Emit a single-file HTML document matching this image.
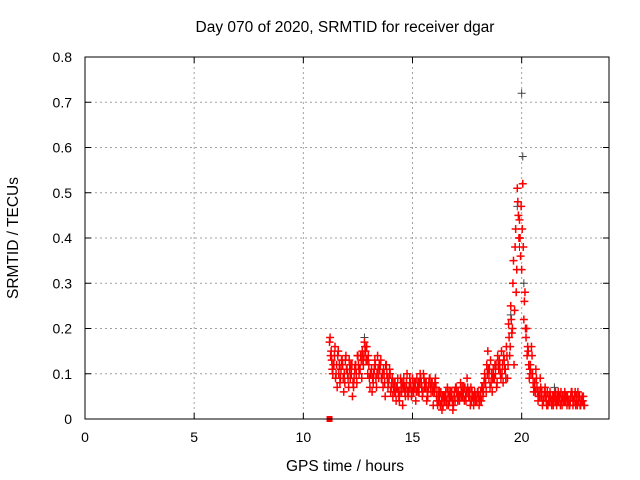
<!DOCTYPE html>
<html><head><meta charset="utf-8"><style>
body{margin:0;background:#fff;}
svg{display:block;font-family:"Liberation Sans",sans-serif;}
</style></head><body>
<svg id="chart" width="640" height="480">
<text x="345" y="32" text-anchor="middle" font-size="15.5">Day 070 of 2020, SRMTID for receiver dgar</text>
<text x="345" y="471" text-anchor="middle" font-size="15.5">GPS time / hours</text>
<text transform="translate(18,238) rotate(-90)" text-anchor="middle" font-size="15.5">SRMTID / TECUs</text>
<g id="grid"></g><g id="marks"></g>
<rect x="85" y="57" width="524" height="362" fill="none" stroke="#000"/>
</svg>
<script>
const xTicks=[0,5,10,15,20];
const yTicks=[0,0.1,0.2,0.3,0.4,0.5,0.6,0.7,0.8];
const yTickLabels=["0","0.1","0.2","0.3","0.4","0.5","0.6","0.7","0.8"];
const startHour=11.2, stepHour=0.1;
const valuesA=[.17,.13,.12,.10,.15,.09,.12,.08,.11,
.13,.10,.07,.12,.14,.11,.15,.17,.16,.12,
.10,.08,.12,.14,.11,.09,.10,.12,.08,.06,
.05,.08,.07,.04,.06,.09,.07,.05,.08,.09,
.07,.09,.06,.08,.10,.07,.05,.09,.08,.06,
.05,.04,.06,.03,.05,.07,.04,.06,.05,.07,
.06,.08,.05,.07,.09,.06,.04,.03,.05,.06,
.05,.07,.10,.12,.09,.08,.11,.10,.14,.12,
.10,.13,.16,.21,.25,.30,.38,.51,.44,.33,
.22,.18,.15,.12,.10,.08,.07,.06,.05,.04,
.05,.03,.06,.04,.05,.03,.04,.06,.05,.04,
.05,.03,.06,.04,.05,.04,.03,.04];
const valuesB=[.14,.10,.16,.07,.12,.13,.06,.14,.09,
.09,.05,.11,.08,.10,.13,.12,.15,.10,.07,
.06,.11,.07,.09,.13,.07,.05,.09,.11,.08,
.08,.04,.06,.09,.03,.06,.10,.07,.05,.06,
.04,.06,.10,.05,.07,.04,.08,.06,.03,.09,
.03,.06,.02,.05,.04,.03,.06,.02,.04,.05,
.04,.05,.07,.04,.06,.03,.05,.06,.04,.03,
.04,.06,.08,.15,.07,.06,.09,.07,.11,.09,
.08,.11,.09,.14,.19,.12,.28,.45,.36,.52,
.28,.14,.09,.16,.06,.11,.04,.09,.03,.06,
.03,.05,.04,.03,.06,.04,.05,.03,.04,.05,
.04,.05,.03,.06,.03,.05,.04,.03];
const valuesC=[.18,.11,.14,.12,.10,.11,.09,.13,.10,
.11,.12,.09,.10,.12,.14,.13,.16,.13,.09,
.11,.10,.09,.11,.12,.10,.08,.10,.09,.07,
.07,.06,.09,.06,.08,.07,.08,.06,.07,.07,
.08,.07,.08,.07,.09,.08,.07,.07,.06,.08,
.04,.05,.04,.05,.06,.05,.05,.04,.06,.06,
.05,.06,.06,.05,.07,.05,.06,.05,.04,.05,
.06,.05,.09,.10,.11,.10,.09,.12,.12,.10,
.12,.11,.14,.18,.22,.35,.42,.48,.40,.42,
.26,.20,.12,.10,.08,.06,.06,.05,.06,.05,
.04,.04,.05,.05,.04,.05,.05,.04,.04,.05,
.04,.04,.05,.05,.04,.05,.04,.05];
const valuesD=[.15,.12,.09,.14,.08,.13,.10,.11,.07,
.12,.08,.12,.14,.11,.09,.14,.13,.14,.10,
.09,.13,.10,.12,.09,.11,.12,.07,.10,.09,
.06,.07,.05,.08,.07,.05,.06,.09,.06,.08,
.06,.08,.09,.06,.08,.06,.09,.08,.07,.07,
.06,.03,.05,.04,.03,.06,.05,.03,.07,.04,
.05,.07,.04,.06,.05,.07,.05,.04,.06,.04,
.07,.08,.06,.11,.13,.09,.12,.08,.13,.15,
.14,.09,.12,.16,.20,.24,.33,.40,.47,.38,
.20,.16,.11,.14,.07,.09,.05,.07,.04,.07,
.06,.04,.03,.05,.04,.06,.03,.05,.06,.03,
.03,.06,.04,.03,.06,.03,.05,.03];
const blackHours=[19.8,19.9,20.0,20.05,20.1,19.5,21.5,12.8,14.0];
const blackValues=[0.47,0.38,0.72,0.58,0.30,0.23,0.07,0.18,0.06];
const sx=h=>85+h*(524/24), sy=v=>419-v*(362/0.8);
const NS="http://www.w3.org/2000/svg";
const grid=document.getElementById('grid'), marks=document.getElementById('marks'), svg=document.getElementById('chart');
function mk(tag,attrs,parent){const e=document.createElementNS(NS,tag);for(const k in attrs)e.setAttribute(k,attrs[k]);parent.appendChild(e);return e;}
xTicks.forEach(t=>{const x=sx(t);
 if(t>0){const l=mk('line',{x1:x,y1:57,x2:x,y2:419,stroke:'#a0a0a0','stroke-dasharray':'2,3'},grid);
 
 }
 const tx=mk('text',{x:x,y:442,'text-anchor':'middle','font-size':14},svg);tx.textContent=String(t);
 
 
 mk('line',{x1:x,y1:419,x2:x,y2:413,stroke:'#000'},svg);mk('line',{x1:x,y1:57,x2:x,y2:63,stroke:'#000'},svg);});
yTicks.forEach((t,i)=>{const y=sy(t);
 if(t>0&&t<0.8){const l=mk('line',{x1:85,y1:y,x2:609,y2:y,stroke:'#a0a0a0','stroke-dasharray':'2,3'},grid);
 
 }
 const tx=mk('text',{x:72,y:y+5,'text-anchor':'end','font-size':14},svg);tx.textContent=yTickLabels[i];
 
 
 mk('line',{x1:85,y1:y,x2:91,y2:y,stroke:'#000'},svg);mk('line',{x1:609,y1:y,x2:603,y2:y,stroke:'#000'},svg);});
function plus(h,v,c,w){const x=sx(h),y=sy(v);
 const p=mk('path',{d:`M${x-4},${y}H${x+4}M${x},${y-4}V${y+4}`,stroke:c,'stroke-width':w,fill:'none'},marks);
 
 }
blackHours.forEach((h,i)=>plus(h,blackValues[i],'#444',1));
valuesA.forEach((v,i)=>plus(startHour+i*stepHour,v,'#f00',1.5));
valuesB.forEach((v,i)=>plus(startHour+i*stepHour+0.05,v,'#f00',1.5));
valuesC.forEach((v,i)=>plus(startHour+i*stepHour+0.025,v,'#f00',1.5));
valuesD.forEach((v,i)=>plus(startHour+i*stepHour+0.075,v,'#f00',1.5));
const sq=mk('rect',{x:sx(11.2)-3,y:sy(0)-3,width:6,height:6,fill:'#f00'},marks);


</script>
</body></html>
